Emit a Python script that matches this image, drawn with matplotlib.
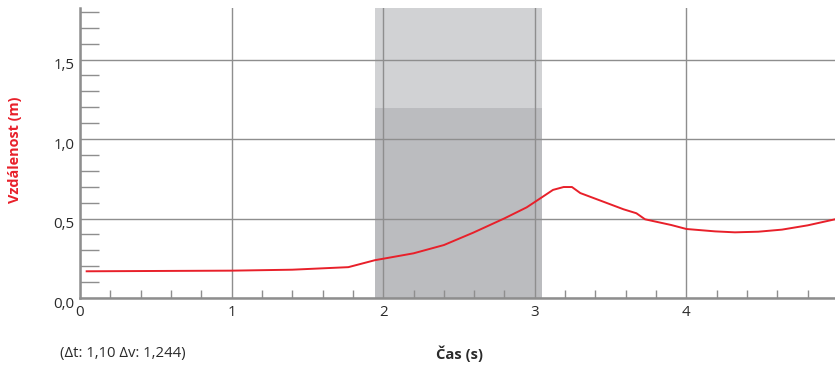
import matplotlib.pyplot as plt
from matplotlib.ticker import MultipleLocator, FixedLocator, FuncFormatter
from matplotlib.patches import Rectangle
from matplotlib.transforms import ScaledTranslation

plt.rcParams['font.family'] = ['Open Sans', 'DejaVu Sans']

# distance vs time, read from the sensor run
cas = [0.044, 0.5, 1.0, 1.4, 1.77, 1.946, 2.0, 2.2, 2.4, 2.594, 2.8, 2.946,
       3.0, 3.046, 3.12, 3.19, 3.245, 3.30, 3.44, 3.585, 3.67, 3.727, 3.90,
       4.0, 4.19, 4.32, 4.474, 4.63, 4.80, 4.98]
vzdalenost = [0.168, 0.170, 0.172, 0.178, 0.194, 0.238, 0.247, 0.281, 0.333,
              0.411, 0.501, 0.570, 0.604, 0.633, 0.680, 0.698, 0.698, 0.660,
              0.610, 0.558, 0.533, 0.495, 0.459, 0.434, 0.419, 0.413, 0.417,
              0.430, 0.457, 0.495]

# selected interval
t_od, t_do = 1.946, 3.046
v_vyska = 1.195
popis = "(Δt: 1,10 Δv: 1,244)"

seda = '#8e8e8e'
cervena = '#e8202a'
text_barva = '#2a2a2a'

fig = plt.figure(figsize=(8.35, 3.65), dpi=100)
ax = fig.add_axes([80 / 835, 67 / 365, 755 / 835, 290 / 365])
ax.set_xlim(0, 4.98)
ax.set_ylim(0, 1.824)

# shaded selection
ax.add_patch(Rectangle((t_od, 0), t_do - t_od, 1.824, color='#d1d2d4', lw=0, zorder=0))
ax.add_patch(Rectangle((t_od, 0), t_do - t_od, v_vyska, color='#bbbcbf', lw=0, zorder=0.5))

ax.xaxis.set_major_locator(FixedLocator([0, 1, 2, 3, 4]))
ax.yaxis.set_major_locator(FixedLocator([0, 0.5, 1.0, 1.5]))
ax.xaxis.set_minor_locator(MultipleLocator(0.2))
ax.yaxis.set_minor_locator(MultipleLocator(0.1))
ax.yaxis.set_major_formatter(FuncFormatter(lambda v, p: f"{v:.1f}".replace('.', ',')))
ax.xaxis.set_major_formatter(FuncFormatter(lambda v, p: f"{v:.0f}"))

ax.grid(True, which='major', color=seda, lw=1, zorder=1)
ax.set_axisbelow(False)
ax.tick_params(which='major', length=0, labelsize=10.8, labelcolor=text_barva)
ax.tick_params(axis='y', which='major', pad=4)
ax.tick_params(axis='x', which='major', pad=5)
ax.tick_params(axis='y', which='minor', direction='in', length=14, width=1, color=seda)
ax.tick_params(axis='x', which='minor', direction='in', length=6, width=1, color=seda)

# y labels sit a little below their gridlines
posun = ScaledTranslation(0, -4 / 100, fig.dpi_scale_trans)
for t in ax.yaxis.get_major_ticks():
    t.label1.set_transform(t.label1.get_transform() + posun)

for s in ['top', 'right']:
    ax.spines[s].set_visible(False)
for s in ['left', 'bottom']:
    ax.spines[s].set_color(seda)
    ax.spines[s].set_linewidth(1.8)

ax.plot(cas, vzdalenost, color=cervena, lw=1.4, zorder=3)

fig.text(15 / 835, 1 - 150 / 365, "Vzdálenost (m)", rotation=90, color=cervena,
         fontsize=10.4, fontweight='bold', ha='center', va='center')
fig.text(460 / 835, 1 - 354 / 365, "Čas (s)", color=text_barva, fontsize=10.6,
         fontweight='bold', ha='center', va='center')
fig.text(60 / 835, 1 - 353 / 365, popis, color=text_barva, fontsize=10.7,
         ha='left', va='center')

fig.savefig('out.png', dpi=100)
